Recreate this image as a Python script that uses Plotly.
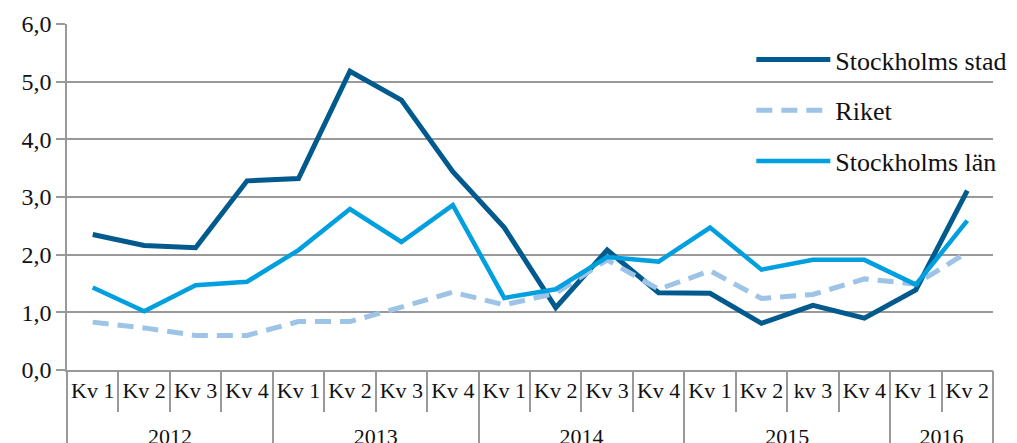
import plotly.graph_objects as go

quarters = ["Kv 1", "Kv 2", "Kv 3", "Kv 4",
            "Kv 1", "Kv 2", "Kv 3", "Kv 4",
            "Kv 1", "Kv 2", "Kv 3", "Kv 4",
            "Kv 1", "Kv 2", "kv 3", "Kv 4",
            "Kv 1", "Kv 2"]
years = ["2012", "2013", "2014", "2015", "2016"]
quarters_per_year = [4, 4, 4, 4, 2]

stockholms_stad = [2.35, 2.16, 2.12, 3.28, 3.32, 5.18, 4.68, 3.44, 2.47, 1.08,
                   2.08, 1.34, 1.33, 0.81, 1.12, 0.90, 1.39, 3.11]
riket = [0.83, 0.73, 0.60, 0.60, 0.84, 0.84, 1.09, 1.35, 1.13, 1.33,
         1.91, 1.40, 1.72, 1.24, 1.31, 1.58, 1.49, 2.04]
stockholms_lan = [1.43, 1.02, 1.47, 1.53, 2.08, 2.79, 2.22, 2.86, 1.25, 1.40,
                  1.96, 1.88, 2.47, 1.74, 1.91, 1.91, 1.48, 2.59]

names = ["Stockholms stad", "Riket", "Stockholms län"]
colors = ["#005A8E", "#9DC3E6", "#009FDF"]

n = len(quarters)
xs = list(range(n))

# year group boundaries / centres derived from quarter counts
bounds = [-0.5]
for c in quarters_per_year:
    bounds.append(bounds[-1] + c)
centres = [(bounds[i] + bounds[i + 1]) / 2 for i in range(len(years))]

fig = go.Figure()
fig.add_trace(go.Scatter(x=xs, y=stockholms_stad, mode="lines", name=names[0],
                         legendgroup="a",
                         line=dict(color=colors[0], width=5)))
fig.add_trace(go.Scatter(x=xs, y=riket, mode="lines", name=names[1],
                         legendgroup="b",
                         line=dict(color=colors[1], width=5, dash="16px,9px")))
fig.add_trace(go.Scatter(x=xs, y=stockholms_lan, mode="lines", name=names[2],
                         legendgroup="c",
                         line=dict(color=colors[2], width=4.5)))

font_family = "Liberation Serif, Times New Roman, serif"
grey = "#999999"
fig.update_layout(
    width=1009, height=435,
    margin=dict(l=59, r=24, t=16, b=73, autoexpand=False),
    paper_bgcolor="white", plot_bgcolor="white",
    separators=", ",
    font=dict(family=font_family, size=21, color="#111111"),
    showlegend=True,
    legend=dict(x=0.739, y=0.965, xanchor="left", yanchor="top",
                bgcolor="rgba(0,0,0,0)", font=dict(size=26, family=font_family),
                traceorder="grouped", tracegroupgap=14, itemwidth=74),
    xaxis=dict(range=[-0.5, n - 0.5], tickmode="array", tickvals=xs,
               ticktext=quarters, ticks="", showgrid=False, zeroline=False,
               showline=True, linecolor=grey, linewidth=1.5,
               tickfont=dict(size=22), automargin=False,
               minor=dict(tickmode="array",
                          tickvals=[i - 0.5 for i in range(n + 1)],
                          ticks="outside", ticklen=40, tickcolor=grey,
                          tickwidth=1.5, showgrid=False)),
    xaxis2=dict(range=[-0.5, n - 0.5], overlaying="x", anchor="y", side="bottom",
                tickmode="array", tickvals=centres, ticktext=years, ticks="",
                showgrid=False, zeroline=False, showline=False,
                ticklabelstandoff=51, tickfont=dict(size=22), automargin=False,
                minor=dict(tickmode="array", tickvals=bounds,
                           ticks="outside", ticklen=90, tickcolor=grey,
                           tickwidth=1.5, showgrid=False)),
    yaxis=dict(range=[0, 6], dtick=1, tickformat=".1f",
               showgrid=True, gridcolor=grey, gridwidth=1.5,
               showline=True, linecolor=grey, linewidth=1.5,
               ticks="outside", ticklen=9, tickcolor=grey, tickwidth=1.5,
               zeroline=False, tickfont=dict(size=24), automargin=False),
)
# invisible helper trace so the year axis is drawn
fig.add_trace(go.Scatter(x=[xs[0]], y=[None], xaxis="x2", showlegend=False,
                         hoverinfo="skip"))

fig.write_html("out.html")
